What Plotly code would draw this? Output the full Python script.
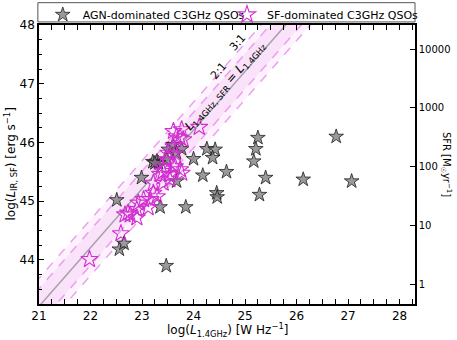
import numpy as np
import plotly.graph_objects as go

# AGN-dominated sources: log L1.4GHz, log L_IR,SF
agn_x = [26.77, 27.07, 26.13, 25.40, 25.28, 25.25, 25.21, 25.17, 24.45, 24.46,
         24.64, 24.18, 24.26, 24.42, 24.37, 24.00, 23.67, 23.35, 23.85, 22.51,
         22.99, 23.29, 23.51, 23.47, 22.56, 22.65, 23.60, 23.77, 23.67, 23.48,
         23.32, 23.21, 23.25]
agn_y = [46.10, 45.34, 45.37, 45.40, 45.11, 46.08, 45.89, 45.68, 45.14, 45.07,
         45.50, 45.44, 45.89, 45.88, 45.74, 45.72, 45.34, 44.90, 44.90, 45.02,
         45.40, 45.68, 45.88, 43.90, 44.18, 44.28, 45.96, 45.89, 45.82, 45.71,
         45.65, 45.67, 45.65]

# SF-dominated sources
sf_x = [21.98, 22.59, 22.67, 22.90, 22.93, 23.16, 22.73, 23.29, 23.22, 23.35,
        23.41, 23.54, 23.61, 23.74, 23.48, 23.64, 23.80, 23.67, 23.74, 23.77,
        24.11, 23.64, 23.54, 23.41, 23.22, 23.03, 22.90, 23.12, 22.77, 23.38,
        23.77, 23.61, 23.61, 23.51]
sf_y = [44.01, 44.45, 44.77, 44.72, 44.97, 45.03, 44.80, 45.08, 45.31, 45.46,
        45.51, 45.37, 45.59, 45.54, 45.71, 45.82, 46.05, 46.10, 46.08, 46.22,
        46.26, 45.59, 45.45, 45.31, 45.14, 45.03, 44.86, 44.89, 44.77, 45.59,
        45.48, 46.19, 45.93, 45.82]

# one-to-one relation and ratio bands
offset = 22.21
ratios = [2, 3]
sfr_zero = 43.59  # log L_IR for SFR = 1 Msun/yr

xr = [21, 28.3]
yr = [43.25, 48]

lx = np.array([20.0, 29.0])
ly = lx + offset

fig = go.Figure()

band_fill = {3: 'rgba(238,150,238,0.12)', 2: 'rgba(238,150,238,0.16)'}
for r in sorted(ratios, reverse=True):
    d = np.log10(r)
    fig.add_trace(go.Scatter(x=lx, y=ly - d, mode='lines', line=dict(width=0),
                             showlegend=False, hoverinfo='skip'))
    fig.add_trace(go.Scatter(x=lx, y=ly + d, mode='lines', line=dict(width=0),
                             fill='tonexty', fillcolor=band_fill[r],
                             showlegend=False, hoverinfo='skip'))
for r in ratios:
    d = np.log10(r)
    for s in (-1, 1):
        fig.add_trace(go.Scatter(x=lx, y=ly + s * d, mode='lines',
                                 line=dict(color='rgba(230,140,230,0.8)', width=1.5, dash='dash'),
                                 showlegend=False, hoverinfo='skip'))
fig.add_trace(go.Scatter(x=lx, y=ly, mode='lines', line=dict(color='#a8a0a8', width=1.5),
                         showlegend=False, hoverinfo='skip'))

fig.add_trace(go.Scatter(x=agn_x, y=agn_y, mode='markers', name='AGN-dominated C3GHz QSOs',
                         legend='legend',
                         marker=dict(symbol='star', size=11, color='rgba(120,120,120,0.75)',
                                     line=dict(color='rgba(30,30,30,0.8)', width=1))))
fig.add_trace(go.Scatter(x=sf_x, y=sf_y, mode='markers', name='SF-dominated C3GHz QSOs',
                         legend='legend2',
                         marker=dict(symbol='star-open', size=13, color='#d12fd1',
                                     line=dict(width=1.1))))

# invisible trace so the SFR axis is drawn
fig.add_trace(go.Scatter(x=[], y=[], yaxis='y2', showlegend=False))

ang = -np.degrees(np.arctan((58.9 / 51.5)))
fig.add_annotation(x=24.62, y=46.97, text='<i>L</i><sub>1.4GHz, SFR</sub> = <i>L</i><sub>1.4GHz</sub>',
                   showarrow=False, textangle=ang, font=dict(size=12, color='black'))
fig.add_annotation(x=24.50, y=47.22, text='2:1', showarrow=False, textangle=ang,
                   font=dict(size=11, color='black'))
fig.add_annotation(x=24.86, y=47.70, text='3:1', showarrow=False, textangle=ang,
                   font=dict(size=11, color='black'))
fig.add_annotation(x=1.108, y=0.5, xref='paper', yref='paper', text='SFR [M<sub>☉</sub>yr<sup>−1</sup>]',
                   showarrow=False, textangle=90, font=dict(size=10, color='black'))
fig.add_annotation(x=0.5, y=-0.094, xref='paper', yref='paper', yanchor='middle',
                   text='log(<i>L</i><sub>1.4GHz</sub>) [W Hz<sup>−1</sup>]',
                   showarrow=False, font=dict(size=12, color='black'))
fig.add_annotation(x=-0.077, y=0.5, xref='paper', yref='paper', xanchor='center',
                   text='log(<i>L</i><sub>IR, SF</sub>) [erg s<sup>−1</sup>]',
                   showarrow=False, textangle=-90, font=dict(size=12, color='black'))

# legend frame
fig.add_shape(type='rect', xref='paper', yref='paper', x0=-0.003, x1=1.0, y0=1.011, y1=1.08,
              line=dict(color='#555', width=1), fillcolor='white', layer='below')

axis_common = dict(showline=True, linecolor='black', linewidth=1.5, ticks='inside',
                   tickcolor='black', tickwidth=1, ticklen=5, showgrid=False, zeroline=False,
                   automargin=False)

leg_common = dict(orientation='v', yanchor='middle', y=1.037, xanchor='left',
                  bgcolor='rgba(0,0,0,0)', borderwidth=0, font=dict(size=11),
                  itemwidth=30, tracegroupgap=0)

fig.update_layout(
    width=457, height=340,
    margin=dict(l=39, r=42, t=25, b=36, autoexpand=False),
    plot_bgcolor='white', paper_bgcolor='white',
    font=dict(family='DejaVu Sans', size=12, color='black'),
    xaxis=dict(range=xr, dtick=1, mirror='allticks',
               minor=dict(dtick=0.25, ticks='inside', ticklen=3, tickcolor='black'),
               **axis_common),
    yaxis=dict(range=yr, dtick=1, mirror=True,
               minor=dict(dtick=0.25, ticks='inside', ticklen=3, tickcolor='black'),
               **axis_common),
    yaxis2=dict(overlaying='y', side='right', type='log',
                range=[yr[0] - sfr_zero, yr[1] - sfr_zero],
                tickvals=[1, 10, 100, 1000, 10000],
                ticktext=['1', '10', '100', '1000', '10000'],
                tickfont=dict(size=10),
                **axis_common),
    legend=dict(x=0.01, **leg_common),
    legend2=dict(x=0.50, **leg_common),
)

fig.write_html("out.html", config={'displayModeBar': False},
               post_script="document.body.style.margin='0';")
